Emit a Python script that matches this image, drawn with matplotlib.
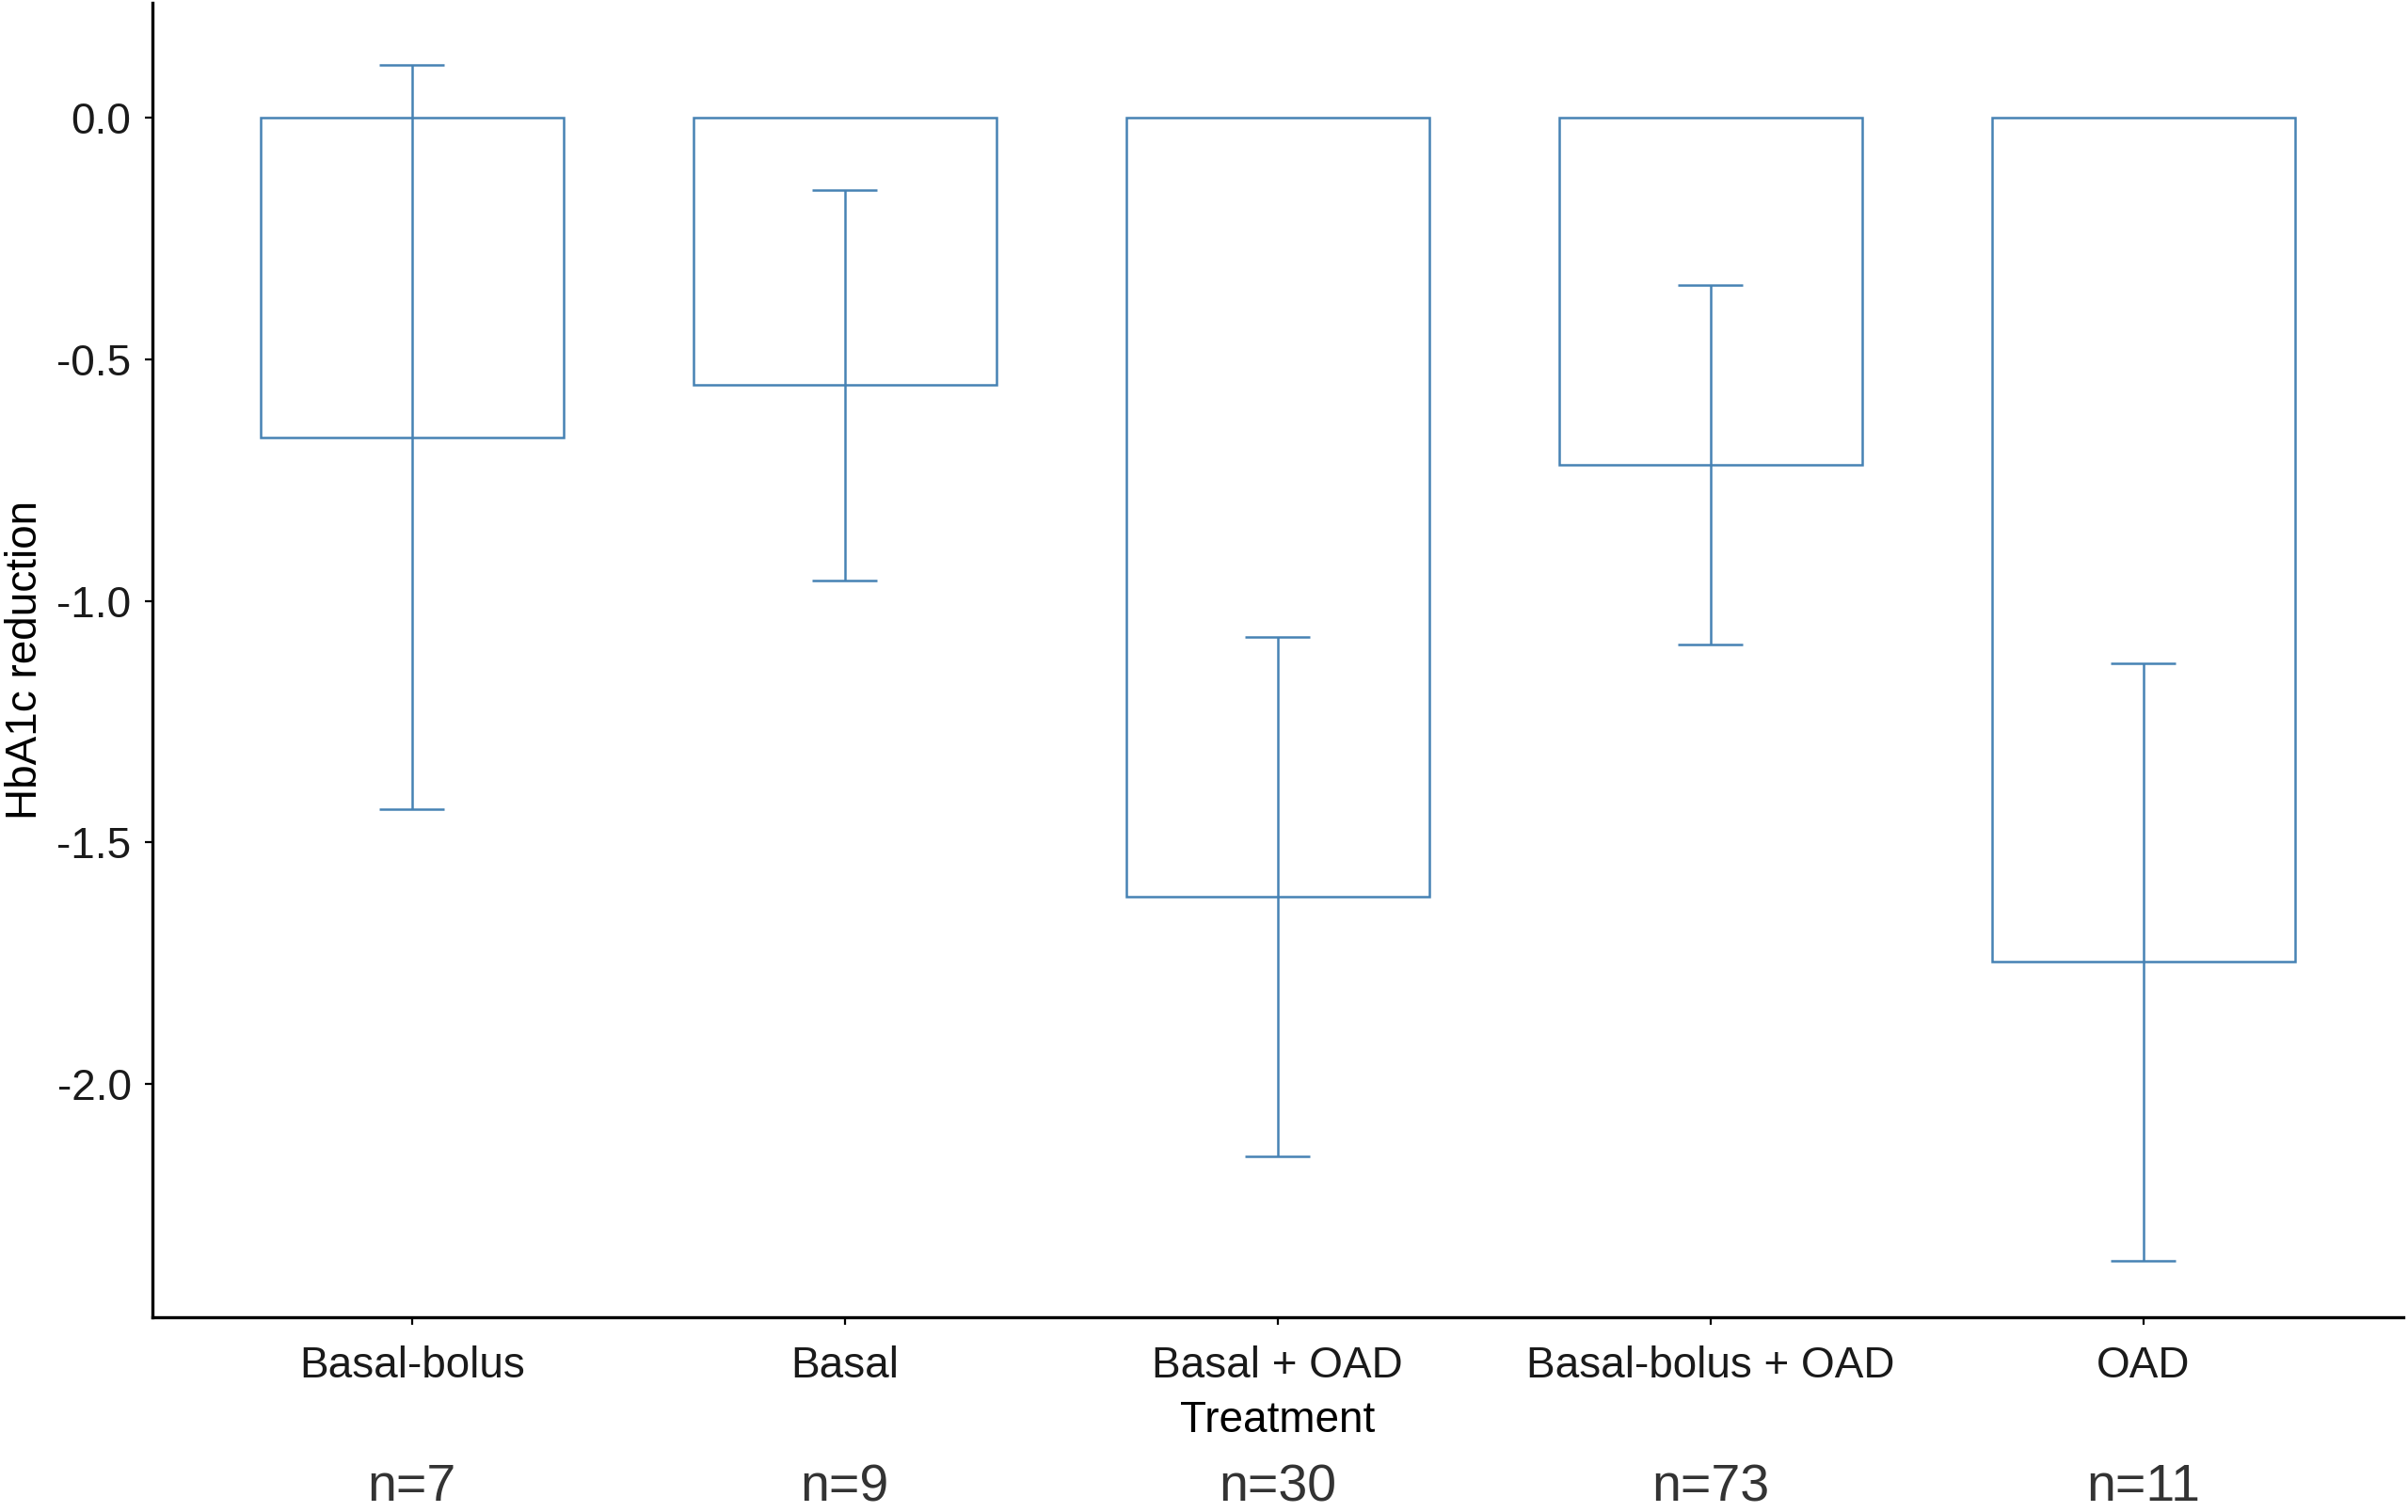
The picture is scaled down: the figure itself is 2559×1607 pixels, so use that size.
import numpy as np
import matplotlib
matplotlib.use("Agg")
import matplotlib.pyplot as plt
import matplotlib.transforms as mtransforms

# Daten
treatments = ["Basal-bolus", "Basal", "Basal + OAD", "Basal-bolus + OAD", "OAD"]
mean_reduction = [-0.661, -0.553, -1.612, -0.718, -1.748]
err_half = [0.770, 0.404, 0.538, 0.372, 0.618]
n_labels = ["n=7", "n=9", "n=30", "n=73", "n=11"]

plt.rcParams["font.family"] = ["Liberation Sans", "DejaVu Sans"]

line_col = "#4682B4"

fig = plt.figure(figsize=(12.795, 8.035), dpi=200)
ax = fig.add_axes([0.0632, 0.129, 0.9348, 0.869])

x = np.arange(len(treatments))
ax.bar(x, mean_reduction, width=0.7, facecolor="white", edgecolor=line_col, linewidth=0.9)
ax.errorbar(x, mean_reduction, yerr=err_half, fmt="none", ecolor=line_col,
            elinewidth=0.9, capsize=0, zorder=3)
# Kappen der Fehlerbalken (Breite in Datenkoordinaten)
lo = np.array(mean_reduction) - np.array(err_half)
hi = np.array(mean_reduction) + np.array(err_half)
ax.hlines(lo, x - 0.075, x + 0.075, color=line_col, linewidth=0.9, zorder=3)
ax.hlines(hi, x - 0.075, x + 0.075, color=line_col, linewidth=0.9, zorder=3)

ax.set_ylim(-2.483, 0.238)
ax.set_xlim(-0.6, len(treatments) - 0.4)

ax.set_yticks([0.0, -0.5, -1.0, -1.5, -2.0])
ax.set_yticklabels(["0.0", "-0.5", "-1.0", "-1.5", "-2.0"])
ax.set_xticks(x)
ax.set_xticklabels(treatments)

for s in ["top", "right"]:
    ax.spines[s].set_visible(False)
for s in ["left", "bottom"]:
    ax.spines[s].set_linewidth(1.2)
ax.tick_params(axis="both", length=3, width=0.8, labelsize=16.5, colors="black",
               labelcolor="#1a1a1a")
ax.tick_params(axis="y", pad=5)
ax.tick_params(axis="x", pad=8)

ax.set_ylabel("HbA1c reduction", fontsize=16.5, va="center")
ax.yaxis.set_label_coords(-0.0565, 0.5)
ax.set_xlabel("Treatment", fontsize=16.5, labelpad=5)

trans = mtransforms.blended_transform_factory(ax.transData, ax.transAxes)
for xi, lab in zip(x, n_labels):
    ax.text(xi, -0.130, lab, transform=trans, ha="center", va="center",
            fontsize=20, color="#333333")

fig.savefig("out.png", dpi=200, facecolor="white")
